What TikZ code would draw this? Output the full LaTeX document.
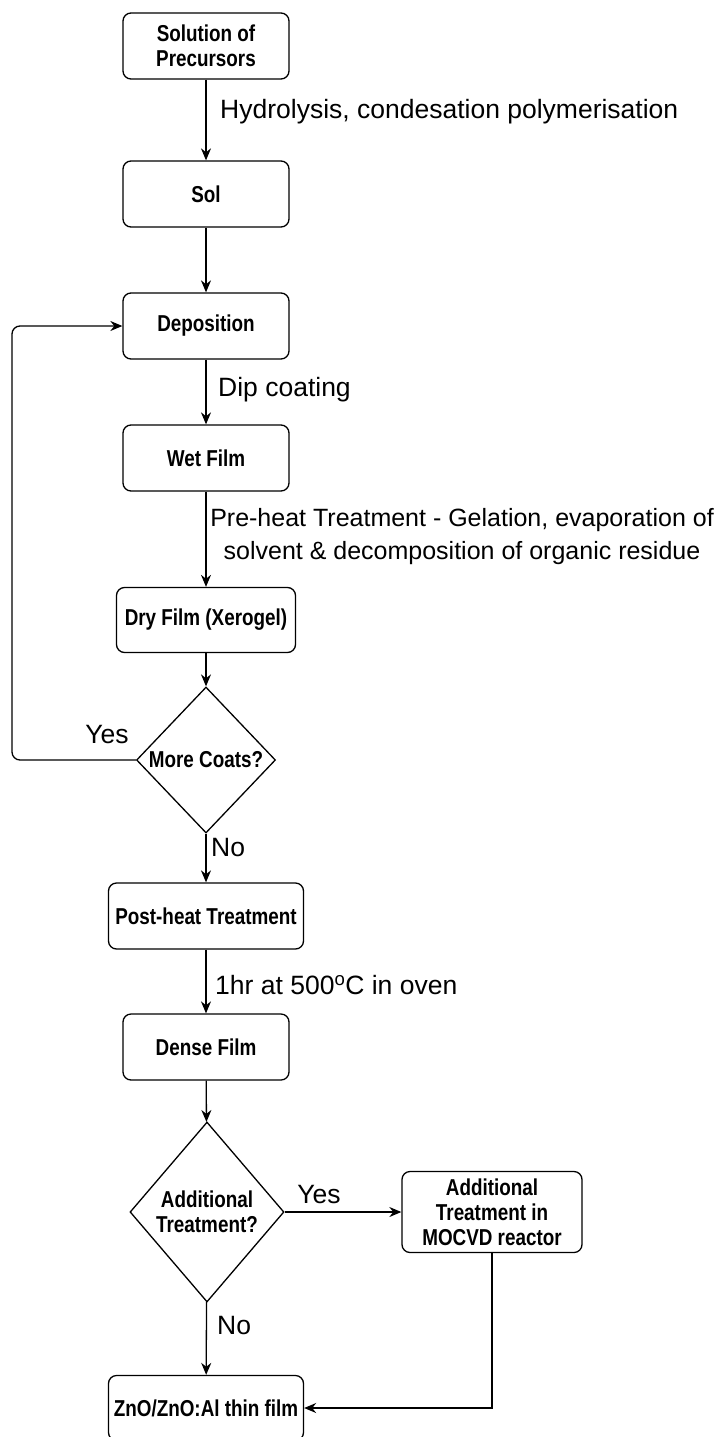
\documentclass[tikz,border=0pt]{standalone}
\usepackage{fontspec}
\setmainfont{Liberation Sans}
\newfontfamily\narrowfont[FakeStretch=0.82]{Liberation Sans}
\usetikzlibrary{shapes.geometric,arrows.meta}

\begin{document}
\begin{tikzpicture}[
        x=1pt, y=-1pt,
        stepbox/.style={rectangle, draw, line width=1.3pt, rounded corners=8pt, inner sep=0pt, align=center,
            font=\narrowfont\bfseries\fontsize{23}{25}\selectfont},
        decision/.style={diamond, draw, line width=1.3pt, inner sep=0pt, align=center,
            font=\narrowfont\bfseries\fontsize{23}{25}\selectfont},
        flow/.style={line width=1.3pt, -{Stealth[length=12pt,width=10pt]}},
        edge_label/.style={font=\fontsize{26.5}{33}\selectfont, inner sep=0pt, align=center}
    ]
        \useasboundingbox (0,0) rectangle (719,1437);

        % Main column of steps
        \node[stepbox, minimum width=166pt, minimum height=66pt] (prec) at (206,46) {Solution of\\Precursors};
        \node[stepbox, minimum width=166pt, minimum height=66pt] (sol) at (206,194) {Sol};
        \node[stepbox, minimum width=166pt, minimum height=66pt] (depo) at (206,326) {Deposition};
        \node[stepbox, minimum width=166pt, minimum height=66pt] (wet) at (206,458) {Wet Film};
        \node[stepbox, minimum width=179pt, minimum height=65pt] (dry) at (206,620) {Dry Film (Xerogel)};
        \node[decision, minimum width=139pt, minimum height=146pt] (coats) at (206,760) {More Coats?};
        \node[stepbox, minimum width=195pt, minimum height=66pt] (post) at (206,916) {Post-heat Treatment};
        \node[stepbox, minimum width=166pt, minimum height=66pt] (dense) at (206,1047) {Dense Film};
        \node[decision, minimum width=154pt, minimum height=180pt] (addq) at (207,1212) {Additional\\Treatment?};
        \node[stepbox, minimum width=180pt, minimum height=81pt] (mocvd) at (492,1212) {Additional\\Treatment in\\MOCVD reactor};
        \node[stepbox, minimum width=195pt, minimum height=65pt] (zno) at (206,1408) {ZnO/ZnO:Al thin film};

        \draw[flow] (prec) -- (sol);
        \draw[flow] (sol) -- (depo);
        \draw[flow] (depo) -- (wet);
        \draw[flow] (wet) -- (dry);
        \draw[flow] (dry) -- (coats);
        \draw[flow] (coats) -- (post);
        \draw[flow] (post) -- (dense);
        \draw[flow] (dense) -- (addq);
        \draw[flow] (addq) -- (mocvd);
        \draw[flow] (addq) -- (zno);

        % Loop back for more coats
        \coordinate (loop_bottom) at (12,760);
        \coordinate (loop_top) at (12,326);
        \draw[flow, rounded corners=8pt] (coats.west) -- (loop_bottom) -- (loop_top) -- (depo.west);
        \draw[flow] (mocvd.south) |- (zno.east);

        % Labels
        \node[edge_label, anchor=west] (hydro) at (220,112) {Hydrolysis, condesation polymerisation};
        \node[edge_label, anchor=west] (dip) at (218,390) {Dip coating};
        \node[edge_label, font=\fontsize{25}{33}\selectfont] (preheat) at (462,537) {Pre-heat Treatment - Gelation, evaporation of\\solvent \& decomposition of organic residue};
        \node[edge_label] (yes1) at (107,735) {Yes};
        \node[edge_label, anchor=west] (no1) at (211,848) {No};
        \node[edge_label, anchor=west] (oven) at (215,985) {1hr at 500\textsuperscript{o}C in oven};
        \node[edge_label] (yes2) at (319,1194) {Yes};
        \node[edge_label, anchor=west] (no2) at (217,1325) {No};

    \end{tikzpicture}
\end{document}
